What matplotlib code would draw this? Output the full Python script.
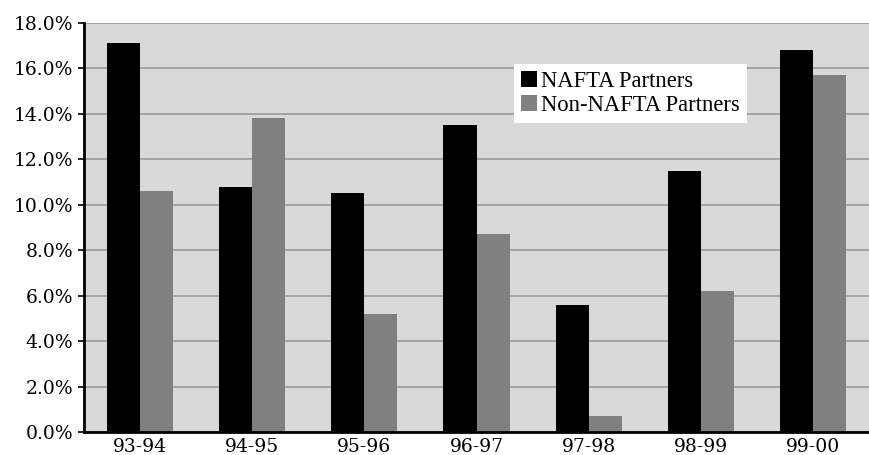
import matplotlib
matplotlib.use("Agg")
import matplotlib.pyplot as plt
import numpy as np
from matplotlib.ticker import FuncFormatter

# Annual growth rates by fiscal year
years = ["93-94", "94-95", "95-96", "96-97", "97-98", "98-99", "99-00"]
nafta = [17.1, 10.8, 10.5, 13.5, 5.6, 11.5, 16.8]
non_nafta = [10.6, 13.8, 5.2, 8.7, 0.7, 6.2, 15.7]
yticks = [0, 2, 4, 6, 8, 10, 12, 14, 16, 18]

fig = plt.figure(figsize=(8.69, 4.55), dpi=100)
ax = fig.add_axes([84 / 869, 1 - 432 / 455, 785 / 869, 409 / 455])
ax.set_facecolor("#D9D9D9")

x = np.arange(len(years))
w = 0.295
ax.bar(x - w / 2, nafta, width=w, color="black", label="NAFTA Partners", zorder=3)
ax.bar(x + w / 2, non_nafta, width=w, color="#808080", label="Non-NAFTA Partners", zorder=3)

ax.set_xlim(-0.5, len(years) - 0.5)
ax.set_ylim(0, 18)
ax.set_yticks(yticks)
ax.yaxis.set_major_formatter(FuncFormatter(lambda v, p: f"{v:.1f}%"))
ax.set_xticks(x)
ax.set_xticklabels(years)

ax.yaxis.grid(True, color="#9A9A9A", linewidth=1.2, zorder=0)
ax.set_axisbelow(True)

for s in ["top", "right"]:
    ax.spines[s].set_visible(False)
for s in ["left", "bottom"]:
    ax.spines[s].set_linewidth(2)
    ax.spines[s].set_color("black")
    ax.spines[s].set_zorder(4)

for lab in ax.get_yticklabels() + ax.get_xticklabels():
    lab.set_fontfamily("DejaVu Serif")
    lab.set_fontsize(13.5)
ax.tick_params(axis="y", length=4, width=1.2, pad=4)
ax.tick_params(axis="x", length=0, pad=4)

leg = ax.legend(loc="upper left", bbox_to_anchor=((514 - 84) / 785, (432 - 64) / 409),
                prop={"family": "Liberation Serif", "size": 16.3},
                frameon=True, fancybox=False, framealpha=1, edgecolor="white",
                handlelength=0.7, handleheight=0.7, handletextpad=0.2,
                borderpad=0.3, labelspacing=0.15, borderaxespad=0)
leg.get_frame().set_linewidth(0)
leg.set_zorder(5)

fig.savefig("out.png", dpi=100)
